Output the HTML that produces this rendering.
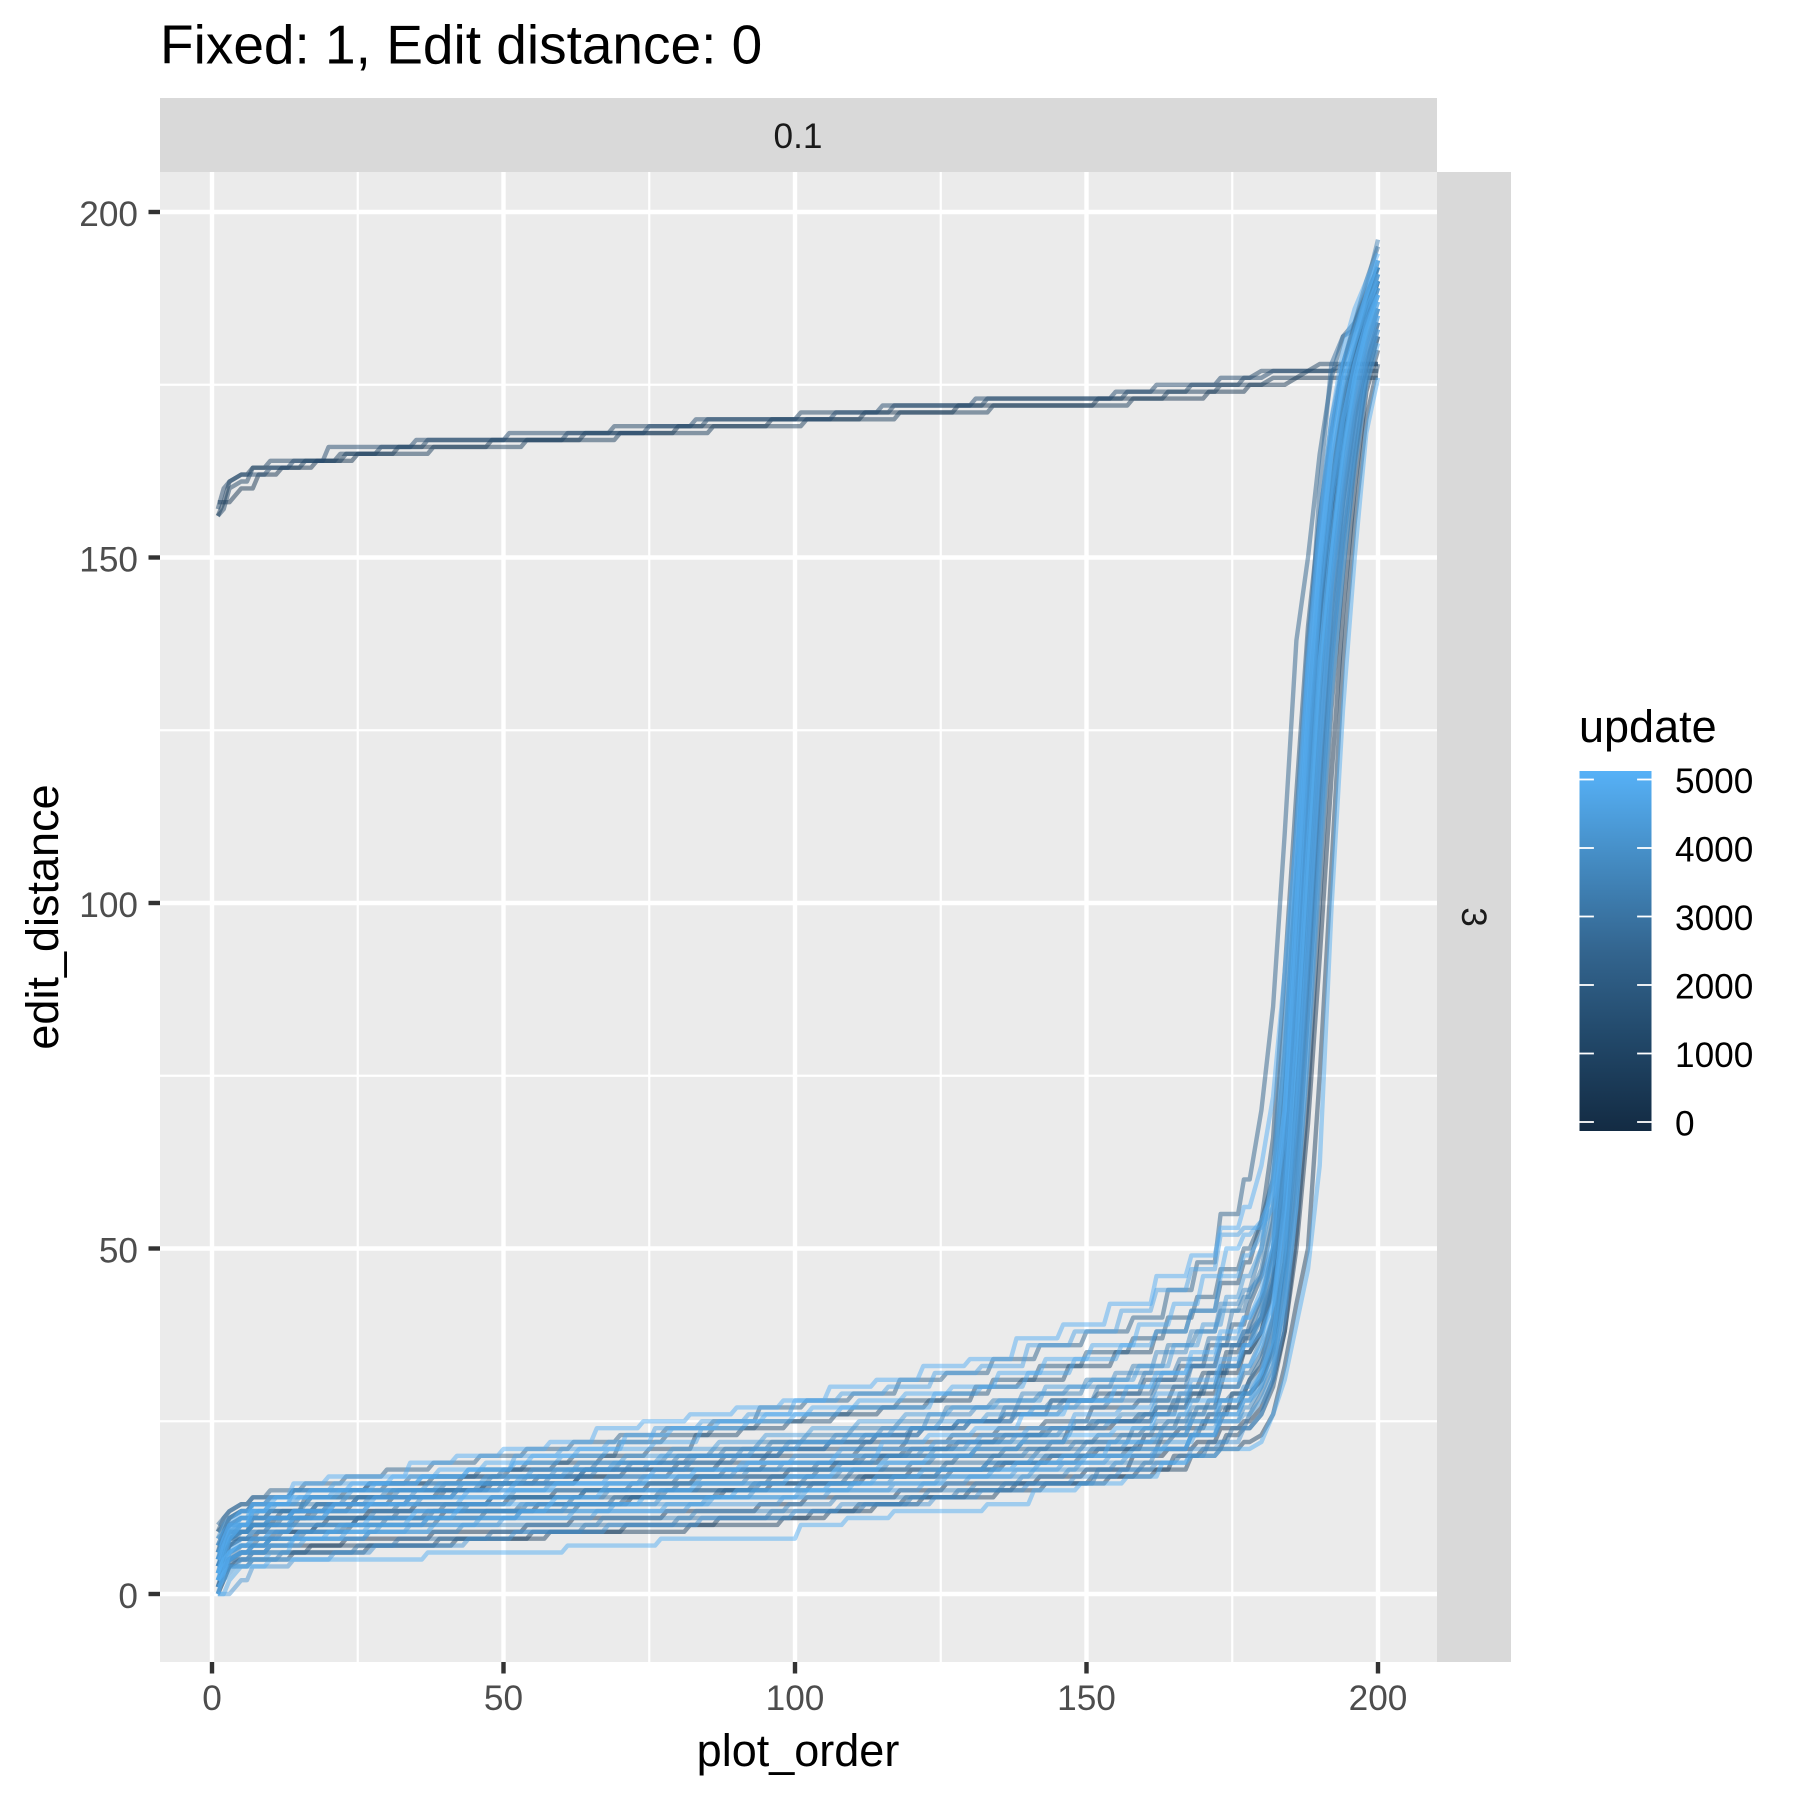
<!DOCTYPE html>
<html>
<head>
<meta charset="utf-8">
<title>Fixed: 1, Edit distance: 0</title>
<style>
  html, body { margin: 0; padding: 0; background: #FFFFFF; }
  svg { display: block; font-family: "Liberation Sans", Arial, sans-serif; }
</style>
</head>
<body>
<svg id="chart" xmlns="http://www.w3.org/2000/svg" width="1800" height="1800" viewBox="0 0 1800 1800">
  <defs>
    <linearGradient id="legendGradient" x1="0" y1="1" x2="0" y2="0">
      <stop offset="0" stop-color="#132B43"/>
      <stop offset="0.25" stop-color="#214768"/>
      <stop offset="0.5" stop-color="#33658F"/>
      <stop offset="0.75" stop-color="#448BC2"/>
      <stop offset="1" stop-color="#56B1F7"/>
    </linearGradient>
  </defs>
  <rect x="0" y="0" width="1800" height="1800" fill="#FFFFFF"/>
  <text x="160" y="63.5" font-size="55" fill="#000000">Fixed: 1, Edit distance: 0</text>
  <rect x="160" y="98" width="1277" height="74" fill="#D9D9D9"/>
  <text x="798" y="148" font-size="35.2" text-anchor="middle" fill="#1A1A1A">0.1</text>
  <rect x="1437" y="172" width="74" height="1490" fill="#D9D9D9"/>
  <text transform="translate(1462 917) rotate(90)" font-size="35.2" text-anchor="middle" fill="#1A1A1A">3</text>
  <rect x="160" y="172" width="1277" height="1490" fill="#EBEBEB"/>
  <g id="grid"></g>
  <g id="series"></g>
  <g id="axes"></g>
  <text x="798" y="1766" font-size="45" text-anchor="middle" fill="#000000">plot_order</text>
  <text transform="translate(58 917) rotate(-90)" font-size="45" text-anchor="middle" fill="#000000">edit_distance</text>
  <g>
    <text x="1579" y="742" font-size="45" fill="#000000">update</text>
    <rect x="1579.5" y="771" width="72" height="360" fill="url(#legendGradient)"/>
    <g id="legendTicks"></g>
  </g>
</svg>
<script>
const xMajorTicks = [0, 50, 100, 150, 200];
const xMinorTicks = [25, 75, 125, 175];
const yMajorTicks = [0, 50, 100, 150, 200];
const yMinorTicks = [25, 75, 125, 175];
const legendValues = [0, 1000, 2000, 3000, 4000, 5000];

const plotOrder = [1,2,3,5,8,12,18,25,32,40,48,56,64,72,80,88,96,104,112,120,128,136,144,152,160,166,171,175,178,180,182,184,186,188,190,192,194,196,198,200];

const updateValues = [700,1100,400,900,4800,4500,4900,2000,3600,1500,4200,3100,1200,4600,2600,5000,800,3900,4700,1800,3300,4400,600,2300,900,4850,1000,4000,2800,3500,500,4300,2200,1400,3800,3000,4950,1700,2500,4100,4250,1300,3200,4650,2100,3700];

const stepOffset = [2,5,0,3,1,4,6,2,5,0,3,6,1,4,2,5,0,3,6,1,4,2,5,0,6,3,1,4,0,5,2,6,3,1,4,0,5,2,6,3,1,5,2,4,0,6];

const editDistance = [
[156,158,161,162,163,163,164,165,165,166,166,167,167,168,168,169,169,170,170,171,171,172,172,172,173,174,174,175,175,175,176,176,176,177,177,177,177,177,177,177],
[157,160,161,162,162,163,164,166,166,167,167,168,168,168,169,170,170,170,171,172,172,173,173,173,174,175,175,176,176,176,177,177,177,177,177,177,178,178,178,178],
[158,158,158,160,162,163,164,165,166,166,167,167,168,168,169,169,170,170,171,171,172,172,172,173,173,173,174,174,175,175,175,175,176,176,176,176,176,176,176,176],
[156,157,160,161,163,164,164,165,166,167,167,167,168,169,169,170,170,171,171,172,172,173,173,173,174,174,175,175,176,177,177,177,177,177,178,178,178,178,178,178],
[4,7,9,11,13,14,15,16,17,18,19,20,21,23,24,25,26,27,28,29,30,32,34,36,39,42,46,50,52,54,58,70,95,125,148,165,175,181,186,190],
[3,6,8,10,12,13,14,15,16,17,18,20,21,22,24,25,26,28,29,30,32,33,36,38,41,44,47,52,53,53,56,66,88,115,140,158,170,178,184,188],
[5,8,10,12,13,14,16,17,17,19,20,21,22,24,25,26,27,28,30,31,33,34,37,39,42,46,49,53,56,62,72,90,110,135,155,170,180,186,190,194],
[9,11,12,13,14,15,16,17,18,19,20,21,22,23,24,25,27,28,29,31,32,34,36,38,40,44,48,55,60,70,85,110,138,150,165,176,182,184,190,195],
[2,4,7,9,10,11,12,13,14,15,16,17,18,18,19,20,21,22,23,24,26,27,29,30,32,35,38,42,44,46,50,62,85,110,135,150,165,175,182,187],
[6,9,10,11,11,12,13,14,14,15,16,17,18,18,19,20,21,21,22,24,25,26,28,29,31,33,36,39,42,46,54,72,98,125,148,163,173,180,186,191],
[8,10,11,12,12,13,14,15,15,16,16,17,18,19,20,20,21,22,23,24,25,26,27,28,30,32,34,37,40,43,48,60,80,105,130,150,165,176,183,189],
[1,3,5,7,8,9,11,12,13,14,15,16,17,18,18,19,20,21,22,23,24,25,26,27,28,30,33,36,38,40,45,55,75,100,128,148,162,173,181,186],
[4,6,8,9,10,11,12,13,14,15,16,16,17,18,18,19,20,20,21,22,23,24,25,27,28,30,32,35,37,40,46,58,82,112,138,155,168,178,184,190],
[7,9,10,10,11,11,12,13,14,14,15,16,16,17,18,18,19,20,21,21,22,23,24,26,27,29,31,34,36,38,42,52,70,95,122,145,160,172,180,185],
[0,2,4,6,7,8,9,10,11,12,12,13,14,14,15,15,16,17,18,18,19,20,21,22,24,25,27,30,32,35,40,52,72,98,125,146,160,172,180,186],
[3,5,6,7,8,9,10,10,11,12,13,13,14,15,15,16,16,17,18,19,20,21,22,23,24,26,28,31,33,36,42,56,80,108,135,152,166,176,183,188],
[5,7,8,8,9,9,10,11,11,12,12,13,13,14,14,15,16,16,17,18,18,19,20,21,23,24,26,29,31,33,38,48,66,90,118,142,158,170,178,184],
[2,4,5,6,7,8,9,9,10,11,11,12,13,13,14,14,15,16,16,17,18,19,20,21,22,24,26,28,30,32,36,46,64,88,115,138,155,168,178,183],
[0,0,2,4,5,6,8,9,10,11,12,12,13,13,14,14,15,15,16,17,18,18,19,20,22,23,25,28,29,32,37,50,74,104,132,150,164,175,182,187],
[4,6,7,8,8,9,9,10,10,11,12,12,13,14,14,15,15,16,17,17,18,19,20,21,22,23,25,27,29,31,35,45,60,84,110,135,152,165,176,182],
[6,8,9,9,10,10,11,11,12,12,13,14,14,15,15,16,17,17,18,19,20,20,21,22,23,25,27,30,33,37,45,62,90,120,145,160,172,180,186,192],
[1,2,3,5,6,7,8,9,9,10,11,11,12,12,13,14,14,15,16,16,17,18,19,20,21,22,24,26,28,30,34,42,56,78,105,130,148,163,175,181],
[3,5,7,8,9,10,10,11,12,13,13,14,15,15,16,17,17,18,19,20,20,21,22,24,25,27,29,32,35,38,44,58,84,114,140,156,168,178,185,190],
[8,9,10,10,10,11,12,12,13,13,14,14,15,15,16,16,17,18,18,19,20,21,22,23,24,26,28,29,31,34,40,54,78,106,134,154,168,177,184,189],
[0,2,4,4,5,5,6,6,7,7,8,8,9,9,9,10,10,11,12,13,14,15,16,16,17,18,20,21,22,23,26,33,42,50,75,105,135,155,170,178],
[2,3,4,4,4,5,5,5,5,6,6,6,7,7,8,8,8,10,11,12,12,13,15,16,17,19,20,21,21,22,26,31,39,47,62,99,128,150,168,176],
[4,5,5,6,6,6,7,7,7,8,8,9,9,10,10,11,11,12,13,14,14,15,16,17,18,20,21,23,24,26,30,38,52,72,100,128,148,164,176,182],
[0,0,0,2,4,4,5,6,7,7,8,9,9,10,10,11,11,12,13,13,14,15,16,17,18,19,21,22,24,26,31,40,56,80,108,134,152,166,177,183],
[3,4,5,5,5,6,6,7,8,8,9,9,10,10,11,11,12,12,13,14,15,16,16,18,19,20,22,24,26,29,33,42,58,84,112,136,154,168,178,184],
[5,6,6,7,7,8,8,8,9,9,10,10,10,11,11,12,12,13,14,14,15,16,17,18,19,21,23,25,27,30,36,48,68,94,120,142,158,170,179,185],
[1,3,4,5,6,7,7,8,8,9,9,10,11,11,12,12,13,14,14,15,16,16,17,18,20,21,22,24,25,27,31,38,50,68,92,118,142,160,174,180],
[2,4,5,6,6,7,8,8,9,10,10,11,11,12,12,13,13,14,15,15,16,17,18,19,20,21,23,26,28,32,40,58,86,118,145,160,170,178,184,191],
[7,8,9,9,10,10,11,11,11,12,12,13,13,14,15,15,16,16,17,17,18,19,19,20,21,23,25,27,29,31,36,48,72,102,130,150,166,176,183,188],
[9,10,11,12,13,13,14,14,15,15,16,16,17,17,18,18,19,19,20,21,22,23,24,25,26,28,30,33,35,38,45,60,88,116,142,158,170,179,186,193],
[6,7,8,9,10,11,12,13,13,14,14,15,15,16,16,17,18,18,19,20,21,22,23,25,26,28,30,33,36,41,50,68,96,124,146,162,174,181,187,192],
[5,8,10,11,12,12,13,14,15,16,17,17,18,19,20,21,22,22,23,24,25,27,28,30,32,34,37,41,44,50,62,84,112,138,155,170,178,184,189,196],
[0,3,6,8,9,10,11,12,13,13,14,15,16,16,17,18,19,19,20,22,23,24,26,28,30,32,35,38,40,44,52,70,100,128,150,165,176,182,188,193],
[4,6,8,9,11,12,14,15,16,17,18,19,20,22,23,24,25,26,27,28,29,31,33,35,37,40,43,47,50,54,60,78,105,130,152,168,178,184,188,192],
[10,11,12,13,14,14,15,15,16,17,17,18,18,19,19,20,20,21,22,23,24,25,27,28,29,31,33,36,38,42,50,70,104,134,160,178,182,183,186,190],
[2,3,5,6,7,8,9,10,10,11,11,12,12,13,13,14,14,15,15,16,17,17,18,19,20,21,23,25,26,28,32,44,64,92,122,146,162,174,181,186],
[3,6,9,11,12,13,14,15,15,16,17,18,19,20,21,22,23,24,25,26,27,28,30,31,33,36,39,43,46,50,58,76,104,132,150,166,176,182,187,191],
[7,9,11,12,13,14,15,15,16,16,17,18,19,20,21,23,24,25,26,27,28,30,31,33,35,38,41,45,48,54,66,90,116,140,156,168,178,183,188,192],
[5,7,8,10,11,12,13,14,15,15,16,17,18,19,20,21,22,23,24,25,27,28,29,31,33,36,38,41,43,47,56,74,102,128,146,160,172,180,185,190],
[2,5,8,10,12,13,15,16,16,17,18,19,20,21,22,24,25,26,27,27,29,30,32,34,36,38,41,46,49,52,60,80,106,134,152,168,178,183,188,193],
[1,4,6,7,8,9,10,11,12,13,14,14,15,16,17,18,18,19,20,21,22,23,24,25,26,29,32,36,39,43,50,66,92,120,142,158,170,178,185,190],
[6,8,9,10,10,11,12,13,13,14,15,15,16,16,17,17,18,19,19,20,21,22,23,24,25,27,30,33,36,40,48,64,94,122,144,158,170,178,184,189]
];

const svgNS = 'http://www.w3.org/2000/svg';
const panel = { left: 160, right: 1437, top: 172, bottom: 1662 };

function xScale(v) { return 212 + v * 5.83; }
function yScale(v) { return 1594 - v * 6.91; }
function legendScale(v) { return 1122 - v * 0.06850; }

function lerp(a, b, t) { return Math.round(a + (b - a) * t); }
function colorFor(update) {
  const t = Math.max(0, Math.min(1, update / 5000));
  return 'rgb(' + lerp(19, 86, t) + ',' + lerp(43, 177, t) + ',' + lerp(67, 247, t) + ')';
}
function make(tag, attrs, parent) {
  const el = document.createElementNS(svgNS, tag);
  Object.keys(attrs).forEach(function (k) { el.setAttribute(k, attrs[k]); });
  parent.appendChild(el);
  return el;
}

const grid = document.getElementById('grid');
const axes = document.getElementById('axes');
const seriesGroup = document.getElementById('series');
const legendTicks = document.getElementById('legendTicks');

xMinorTicks.forEach(function (v) {
  const el = make('line', { x1: xScale(v), x2: xScale(v), y1: panel.top, y2: panel.bottom, stroke: '#FFFFFF', 'stroke-width': 2.2 }, grid);
  
  
});
yMinorTicks.forEach(function (v) {
  const el = make('line', { x1: panel.left, x2: panel.right, y1: yScale(v), y2: yScale(v), stroke: '#FFFFFF', 'stroke-width': 2.2 }, grid);
  
  
});
xMajorTicks.forEach(function (v) {
  const gridLine = make('line', { x1: xScale(v), x2: xScale(v), y1: panel.top, y2: panel.bottom, stroke: '#FFFFFF', 'stroke-width': 4.4 }, grid);
  
  
  const tick = make('line', { x1: xScale(v), x2: xScale(v), y1: panel.bottom, y2: panel.bottom + 11.5, stroke: '#333333', 'stroke-width': 4.4 }, axes);
  
  
  const label = make('text', { x: xScale(v), y: 1710, 'font-size': 35.2, 'text-anchor': 'middle', fill: '#4D4D4D' }, axes);
  
  
  label.textContent = String(v);
});
yMajorTicks.forEach(function (v) {
  const gridLine = make('line', { x1: panel.left, x2: panel.right, y1: yScale(v), y2: yScale(v), stroke: '#FFFFFF', 'stroke-width': 4.4 }, grid);
  
  
  const tick = make('line', { x1: panel.left - 11.5, x2: panel.left, y1: yScale(v), y2: yScale(v), stroke: '#333333', 'stroke-width': 4.4 }, axes);
  
  
  const label = make('text', { x: 138, y: yScale(v) + 14, 'font-size': 35.2, 'text-anchor': 'end', fill: '#4D4D4D' }, axes);
  
  
  label.textContent = String(v);
});

const drawOrder = updateValues.map(function (u, i) { return i; }).sort(function (a, b) { return updateValues[a] - updateValues[b]; });
drawOrder.forEach(function (s) {
  const values = editDistance[s];
  let d = 'M' + xScale(plotOrder[0]).toFixed(1) + ' ' + yScale(values[0]).toFixed(1);
  for (let i = 1; i < values.length; i++) {
    const x0 = plotOrder[i - 1], x1 = plotOrder[i];
    const dx = x1 - x0;
    if (values[i] !== values[i - 1] && dx > 2) {
      const rise = x1 - Math.min(stepOffset[s], dx - 2);
      d += 'L' + xScale(rise - 1).toFixed(1) + ' ' + yScale(values[i - 1]).toFixed(1);
      d += 'L' + xScale(rise).toFixed(1) + ' ' + yScale(values[i]).toFixed(1);
    }
    d += 'L' + xScale(x1).toFixed(1) + ' ' + yScale(values[i]).toFixed(1);
  }
  const path = make('path', { d: d, fill: 'none', stroke: colorFor(updateValues[s]), 'stroke-width': 4.4, 'stroke-opacity': 0.5, 'stroke-linejoin': 'round', 'stroke-linecap': 'butt' }, seriesGroup);
  
  
});

legendValues.forEach(function (v) {
  const y = legendScale(v);
  const left = make('line', { x1: 1579.5, x2: 1593.9, y1: y, y2: y, stroke: '#FFFFFF', 'stroke-width': 1.8 }, legendTicks);
  
  
  const right = make('line', { x1: 1637.1, x2: 1651.5, y1: y, y2: y, stroke: '#FFFFFF', 'stroke-width': 1.8 }, legendTicks);
  
  
  const label = make('text', { x: 1675, y: y + 13.5, 'font-size': 35.2, fill: '#000000' }, legendTicks);
  
  
  label.textContent = String(v);
});
</script>
</body>
</html>
